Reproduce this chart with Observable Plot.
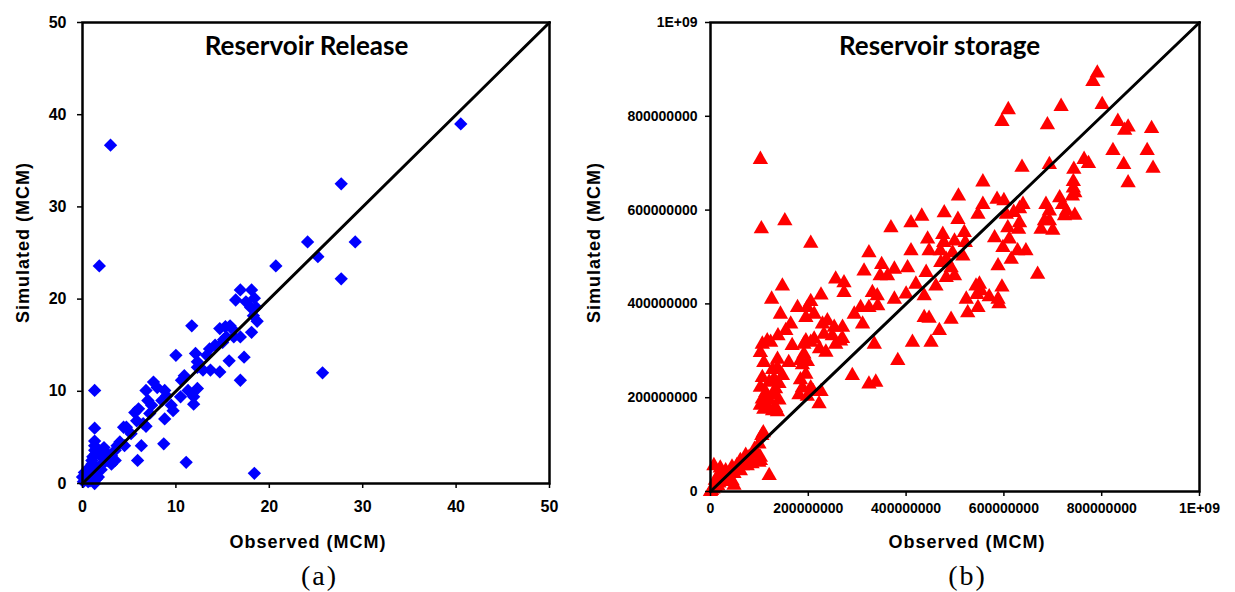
<!DOCTYPE html>
<html><head><meta charset="utf-8">
<script src="https://cdn.jsdelivr.net/npm/d3@7"></script>
<script src="https://cdn.jsdelivr.net/npm/@observablehq/plot@0.6"></script>
<style>
body{margin:0;background:#fff}
#wrap{position:relative;width:1235px;height:592px;overflow:hidden;background:#fff}
#wrap svg{position:absolute;top:0}
</style></head><body><div id="wrap"></div>
<script>
// Panel (a): Reservoir release, [observed, simulated] in MCM
const releasePoints = [
[3.0,36.7],[1.8,23.6],[40.5,39.0],[27.7,32.5],[24.1,26.2],[29.2,26.2],[25.2,24.6],[20.7,23.6],[27.7,22.2],[25.7,12.0],[11.1,2.3],[18.4,1.1],[1.3,10.1],[1.3,6.0],[11.7,17.1],
[16.9,21.0],[18.1,21.0],[16.4,19.9],[17.5,19.7],[18.4,20.1],[18.0,19.1],[18.6,19.1],[18.3,18.2],[18.7,17.6],[18.1,16.4],[16.9,15.9],[16.0,16.8],[15.3,17.0],[15.8,17.1],[16.2,15.9],[15.4,15.9],[15.1,15.6],[14.7,16.8],[16.9,11.2],[17.3,13.7],[15.7,13.3],
[15.0,15.3],[14.2,15.0],[13.6,14.6],[13.3,13.9],[13.7,12.3],[14.7,12.1],[12.9,12.3],[12.3,12.6],[12.1,14.1],[12.3,13.2],[10.0,13.9],[10.9,11.7],[10.6,11.2],[11.3,10.1],[10.5,9.4],[11.9,9.4],[12.3,10.3],[11.9,8.6],[9.5,8.5],[9.7,7.9],[8.8,7.0],[8.8,10.1],[8.0,10.4],[7.6,11.0],[6.8,10.1],[7.0,9.0],[7.4,8.5],[7.2,7.6],[6.8,6.2],[6.0,8.1],[5.6,7.7],[5.8,6.8],[4.7,6.1],[4.4,6.1],[5.2,5.4],[4.5,4.1],[3.7,4.1],[3.5,3.6],[3.1,3.0],[2.5,3.4],[2.3,3.9],[2.7,2.5],[2.1,2.1],[1.9,3.0],[1.4,3.2],[1.3,4.1],[1.3,4.6],[1.1,2.9],[1.0,2.1],[0.6,1.6],[0.2,1.2],[0.0,0.7],[0.5,0.5],[1.1,1.0],[1.3,0.0],[1.7,0.7],[0.6,0.2],[0.1,0.2],[1.9,1.9],[2.5,2.5],[3.1,2.1],[3.5,2.5],[1.4,1.9],[1.0,2.5],[1.3,3.6],[8.7,4.3],[6.3,4.1],[5.9,2.5],[9.0,9.5],[8.5,9.0],[6.5,6.5],[4.0,4.5],[2.0,1.5],[0.8,0.3],[0.3,0.8],[1.5,0.5],[0.9,1.5]
];
const releaseTicks = [0, 10, 20, 30, 40, 50];
const releaseDiagonal = [0, 50];

// Panel (b): Reservoir storage, [observed, simulated]
const storagePoints = [
// upper right
[7.91e8,8.92e8],[7.82e8,8.74e8],[8.01e8,8.25e8],[7.17e8,8.21e8],[6.09e8,8.14e8],[5.96e8,7.89e8],[6.89e8,7.82e8],[8.33e8,7.89e8],[8.54e8,7.77e8],[8.47e8,7.70e8],[9.02e8,7.74e8],[8.23e8,7.27e8],[8.93e8,7.27e8],[8.45e8,6.97e8],[9.05e8,6.89e8],[8.54e8,6.58e8],[6.37e8,6.91e8],[6.93e8,6.97e8],[7.64e8,7.08e8],[7.73e8,6.99e8],[7.43e8,6.87e8],[7.42e8,6.61e8],[7.42e8,6.47e8],[7.45e8,6.37e8],[7.40e8,6.30e8],[5.86e8,6.23e8],[6.00e8,6.20e8],[6.39e8,6.12e8],[6.32e8,6.03e8],[6.05e8,5.91e8],[6.20e8,5.95e8],[6.86e8,6.12e8],[7.14e8,6.26e8],[7.20e8,6.12e8],[6.93e8,5.98e8],[7.28e8,5.98e8],[7.45e8,5.89e8],[7.24e8,5.88e8],[6.83e8,5.77e8],[6.93e8,5.77e8],[6.76e8,5.59e8],[7.00e8,5.57e8],[6.32e8,5.73e8],[6.30e8,5.59e8],[6.08e8,5.62e8],[5.81e8,5.41e8],[6.11e8,5.38e8],[5.98e8,5.20e8],[6.28e8,5.13e8],[6.45e8,5.13e8],[6.15e8,4.95e8],[5.88e8,4.81e8],[6.69e8,4.63e8],[5.96e8,4.36e8],[5.88e8,4.10e8],[5.90e8,4.00e8],
// middle
[5.57e8,6.60e8],[5.07e8,6.30e8],[4.78e8,5.94e8],[5.06e8,5.80e8],[5.47e8,5.91e8],[5.57e8,6.12e8],[3.69e8,5.62e8],[4.10e8,5.73e8],[4.32e8,5.87e8],[4.44e8,5.38e8],[4.75e8,5.48e8],[4.77e8,5.31e8],[4.99e8,5.34e8],[5.19e8,5.52e8],[5.21e8,5.31e8],[4.10e8,5.13e8],[4.47e8,5.13e8],[4.70e8,5.13e8],[4.95e8,5.09e8],[5.16e8,5.02e8],[4.82e8,4.95e8],[4.71e8,4.88e8],[4.92e8,4.77e8],[3.24e8,5.09e8],[3.50e8,4.84e8],[3.76e8,4.74e8],[4.03e8,4.77e8],[3.62e8,4.60e8],[3.47e8,4.60e8],[3.14e8,4.70e8],[4.41e8,4.67e8],[4.20e8,4.42e8],[4.61e8,4.38e8],[4.82e8,4.56e8],[4.99e8,4.60e8],[2.73e8,4.45e8],[2.73e8,4.24e8],[3.31e8,4.24e8],[3.41e8,4.17e8],[3.42e8,3.96e8],[3.76e8,4.10e8],[4.00e8,4.21e8],[4.37e8,4.17e8],[3.07e8,3.92e8],[2.94e8,3.78e8],[3.24e8,3.92e8],[3.11e8,3.57e8],[2.70e8,3.50e8],[2.70e8,3.26e8],[3.35e8,3.14e8],[3.83e8,2.79e8],[4.13e8,3.18e8],[4.51e8,3.18e8],[4.37e8,3.71e8],[4.47e8,3.69e8],[4.68e8,3.43e8],[4.92e8,3.67e8],[2.90e8,2.47e8],[3.24e8,2.29e8],[3.38e8,2.33e8],[5.23e8,4.10e8],[5.26e8,3.81e8],[5.47e8,3.92e8],[5.43e8,4.38e8],[5.50e8,4.42e8],[5.53e8,4.28e8],[5.45e8,4.20e8],[5.70e8,4.15e8],
// high outliers at low observed
[1.02e8,7.08e8],[1.04e8,5.60e8],[1.52e8,5.77e8],[2.05e8,5.29e8],[2.56e8,4.53e8],
// dense column near 1-2.7e8
[1.47e8,4.38e8],[1.25e8,4.10e8],[1.43e8,3.78e8],[1.78e8,3.92e8],[1.64e8,3.57e8],[1.54e8,3.43e8],[1.38e8,3.32e8],[1.16e8,3.21e8],[1.06e8,3.14e8],[1.23e8,3.18e8],[1.67e8,3.11e8],[1.02e8,2.96e8],[1.37e8,2.82e8],[1.09e8,2.75e8],[1.60e8,2.75e8],[1.37e8,2.63e8],[1.27e8,2.60e8],[1.47e8,2.47e8],[1.06e8,2.43e8],[1.30e8,2.40e8],[1.20e8,2.33e8],[1.40e8,2.30e8],[1.02e8,2.22e8],[1.33e8,2.19e8],[1.13e8,2.11e8],[1.30e8,2.06e8],[1.06e8,1.97e8],[1.20e8,1.95e8],[1.40e8,1.95e8],[1.02e8,1.84e8],[1.16e8,1.82e8],[1.33e8,1.79e8],[1.09e8,1.75e8],[1.27e8,1.72e8],[1.37e8,1.70e8],
[1.95e8,3.71e8],[1.98e8,3.92e8],[2.05e8,4.05e8],[2.26e8,4.19e8],[2.12e8,3.78e8],[2.39e8,3.64e8],[2.29e8,3.57e8],[2.53e8,3.50e8],[2.49e8,3.32e8],[2.32e8,3.35e8],[2.66e8,3.21e8],[2.56e8,3.14e8],[2.12e8,3.25e8],[2.05e8,3.18e8],[1.95e8,3.21e8],[1.91e8,3.14e8],[1.91e8,2.93e8],[2.23e8,3.04e8],[2.36e8,2.97e8],[1.84e8,2.79e8],[1.98e8,2.77e8],[1.88e8,2.70e8],[1.95e8,2.50e8],[1.84e8,2.38e8],[1.88e8,2.21e8],[2.05e8,2.21e8],[1.81e8,2.06e8],[2.10e8,2.13e8],[1.98e8,2.03e8],[2.22e8,1.87e8],[2.26e8,2.13e8],
// near origin
[1.05e8,1.19e8],[0.99e8,1.01e8],[0.96e8,0.80e8],[1.02e8,0.73e8],[0.07e8,0.55e8],[0.20e8,0.41e8],[0.31e8,0.44e8],[0.44e8,0.52e8],[0.54e8,0.55e8],[0.61e8,0.66e8],[0.72e8,0.77e8],[0.79e8,0.73e8],[0.89e8,0.80e8],[0.99e8,0.62e8],[1.02e8,0.66e8],[0.85e8,0.59e8],[0.75e8,0.55e8],[0.61e8,0.44e8],[0.48e8,0.38e8],[0.34e8,0.30e8],[0.44e8,0.23e8],[0.27e8,0.21e8],[0.17e8,0.18e8],[0.10e8,0.09e8],[0.02e8,0.02e8],[0.48e8,0.13e8],[1.20e8,0.34e8],[0.10e8,0.24e8],[0.20e8,0.50e8],[0.00e8,0.00e8],[0.05e8,0.05e8],[0.15e8,0.12e8],[0.30e8,0.35e8],[0.65e8,0.55e8],[0.90e8,0.90e8],[1.08e8,1.25e8]
];
const storageTicks = [0, 2e8, 4e8, 6e8, 8e8, 1e9];
const storageTickLabels = ["0", "200000000", "400000000", "600000000", "800000000", "1E+09"];
const storageDiagonal = [0, 1e9];

const titles = ["Reservoir Release", "Reservoir storage"];
const xLabel = "Observed (MCM)";
const yLabel = "Simulated (MCM)";
const captions = ["(a)", "(b)"];

const sans = "'Liberation Sans', Arial, sans-serif";

function panel(o) {
  return Plot.plot({
    width: o.width, height: 592,
    marginLeft: o.ml, marginRight: o.mr, marginTop: 22, marginBottom: o.mb,
    style: {fontFamily: sans, fontWeight: "bold", fontSize: o.tickFont + "px", color: "black", background: "transparent", overflow: "visible"},
    x: {domain: o.domain}, y: {domain: o.domain},
    marks: [
      Plot.dot(o.points, {x: d => d[0], y: d => d[1], symbol: o.symbol, r: o.r, fill: o.color, stroke: "none"}),
      Plot.line(o.diag.map(v => [v, v]), {x: d => d[0], y: d => d[1], stroke: "black", strokeWidth: 3}),
      Plot.frame({stroke: "black", strokeWidth: 2.5}),
      Plot.axisX({ticks: o.ticks, tickFormat: o.fmt, tickSize: 5, tickPadding: o.xpad, label: null, strokeWidth: 1.5}),
      Plot.axisY({ticks: o.ticks, tickFormat: o.fmt, tickSize: 5, tickPadding: o.ypad, label: null, strokeWidth: 1.5}),
      Plot.text([o.title], {text: d => d, frameAnchor: "top", textAnchor: "middle", lineAnchor: "bottom", dx: o.tdx, dy: 32, fontFamily: "Lato", fontSize: 26, fontWeight: "bold", fill: "black"}),
      Plot.text([xLabel], {text: d => d, frameAnchor: "bottom", textAnchor: "middle", lineAnchor: "bottom", dx: o.xldx, dy: o.xldy, fontSize: 18, fontWeight: "bold", fill: "black"}),
      Plot.text([yLabel], {text: d => d, frameAnchor: "left", textAnchor: "middle", lineAnchor: "bottom", rotate: -90, dx: o.yldx, dy: o.yldy, fontSize: 18, fontWeight: "bold", fill: "black"}),
      Plot.text([o.caption], {text: d => d, frameAnchor: "bottom", textAnchor: "middle", lineAnchor: "bottom", dx: o.cdx, dy: o.cdy, fontFamily: "'Liberation Serif', 'Times New Roman', serif", fontSize: 28, fontWeight: "normal", fill: "black"})
    ]
  });
}

const left = panel({
  width: 580, ml: 82, mr: 31, mb: 109, domain: [0, 50], points: releasePoints, diag: releaseDiagonal,
  symbol: "diamond2", r: 6, color: "#0000ff", ticks: releaseTicks, fmt: d => String(d), tickFont: 16,
  xpad: 12, ypad: 11, title: titles[0], tdx: -9.5, xldx: -8, xldy: 64.5, yldx: -53.5, yldy: -10.5,
  caption: captions[0], cdx: 3.5, cdy: 101
});
const right = panel({
  width: 655, ml: 130, mr: 36, mb: 101, domain: [0, 1e9], points: storagePoints, diag: storageDiagonal,
  symbol: "triangle", r: 5.7, color: "#ff0000", ticks: storageTicks, fmt: d => storageTickLabels[storageTicks.indexOf(d)], tickFont: 14,
  xpad: 7, ypad: 8, title: titles[1], tdx: -15.5, xldx: 12, xldy: 56.5, yldx: -110.5, yldy: -14.5,
  caption: captions[1], cdx: 12.5, cdy: 93
});
left.style.left = "0px";
right.style.left = "580px";
for (const svg of [left, right]) {
  d3.select(svg).selectAll("text").filter(function() { return this.textContent.includes("MCM"); }).attr("letter-spacing", "1px");
  d3.select(svg).selectAll("text").filter(function() { return /^\([ab]\)$/.test(this.textContent); }).attr("letter-spacing", "2px");
}
document.getElementById("wrap").append(left, right);
</script>
</body></html>
